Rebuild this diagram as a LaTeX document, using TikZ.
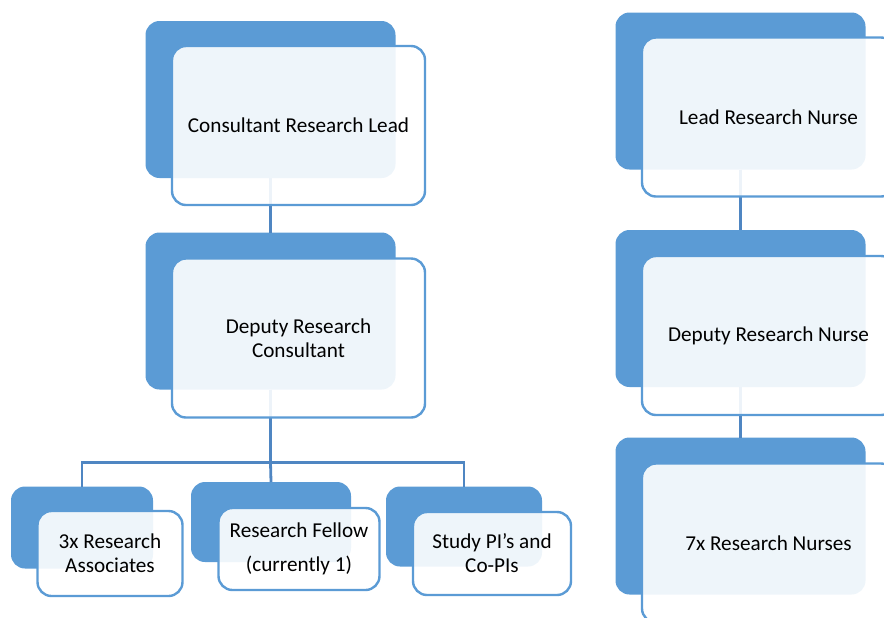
\documentclass[tikz,border=0pt]{standalone}
\usepackage{fontspec}
\setmainfont{Carlito}[Ligatures=ResetAll]
\usepackage{tikz}

\definecolor{tileblue}{HTML}{5B9BD5}
\definecolor{linkblue}{HTML}{4F86C2}

\begin{document}
\begin{tikzpicture}[x=0.5pt,y=-0.5pt,font=\fontsize{10.6}{12}\selectfont,
  shadowtile/.style={fill=tileblue,rounded corners=7pt,inner sep=0pt,outer sep=0pt},
  card/.style={draw=tileblue,line width=1.2pt,fill=white,fill opacity=.9,text opacity=1,
    rounded corners=7pt,inner sep=0pt,outer sep=0pt,align=center},
  big/.style={minimum width=125pt,minimum height=78.5pt},
  bigcard/.style={minimum width=126.5pt,minimum height=79.5pt},
  link/.style={draw=linkblue,line width=1.4pt}]
\useasboundingbox (0,0) rectangle (884,617);
\clip (0,0) rectangle (884,617);

% dark tiles behind the cards
\node[shadowtile,big] (leadbk) at (270.5,99.5) {};
\node[shadowtile,big] (deputybk) at (270.5,311) {};
\node[shadowtile,minimum width=71pt,minimum height=41pt] (assocbk) at (82,527.5) {};
\node[shadowtile,minimum width=80pt,minimum height=40pt] (fellowbk) at (271,522) {};
\node[shadowtile,minimum width=78pt,minimum height=40pt] (pibk) at (464,526.5) {};

\node[shadowtile,big] (nleadbk) at (740.5,91) {};
\node[shadowtile,big] (ndepbk) at (740.5,308.5) {};
\node[shadowtile,big] (nursesbk) at (740.5,516) {};

% connectors
\draw[link] (leadbk) -- (deputybk);
\draw[link] (deputybk.south) -- ++(0,73) coordinate (fork);
\draw[link] (assocbk.north) |- (fork) -| (pibk.north);
\draw[link] (fork) -- (fellowbk.north);
\draw[link] (nleadbk) -- (ndepbk);
\draw[link] (ndepbk) -- (nursesbk);

% cards with the roles
\node[card,bigcard] (lead) at ([shift={(28,26)}]leadbk.center) {Consultant Research Lead};
\node[card,bigcard] (deputy) at ([shift={(28,27)}]deputybk.center) {Deputy Research\\Consultant};
\node[card,minimum width=72.5pt,minimum height=42.5pt] (assoc) at ([shift={(28,26)}]assocbk.center) {3x Research\\Associates};
\node[card,minimum width=80.5pt,minimum height=41pt] (fellow) at ([shift={(28,27)}]fellowbk.center) {Research Fellow\\[5pt](currently 1)};
\node[card,minimum width=79pt,minimum height=41.5pt] (pi) at ([shift={(28,27)}]pibk.center) {Study PI's and\\Co-PIs};

\node[card,bigcard] (nlead) at ([shift={(28,26)}]nleadbk.center) {Lead Research Nurse};
\node[card,bigcard] (ndep) at ([shift={(28,27)}]ndepbk.center) {Deputy Research Nurse};
\node[card,bigcard] (nurses) at ([shift={(28,27)}]nursesbk.center) {7x Research Nurses};
\end{tikzpicture}
\end{document}
